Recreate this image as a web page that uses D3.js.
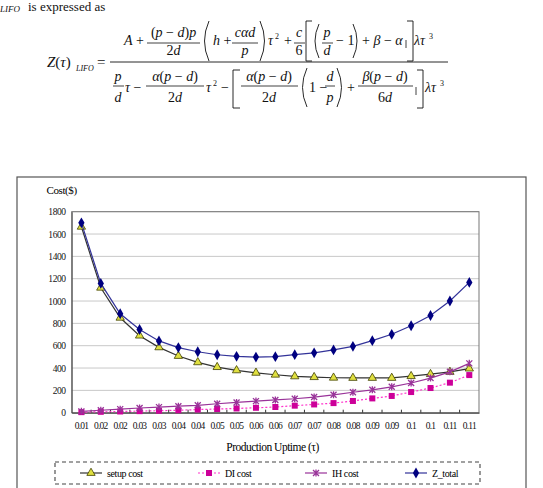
<!DOCTYPE html>
<html>
<head>
<meta charset="utf-8">
<script src="https://cdn.jsdelivr.net/npm/d3@7"></script>
<style>
  body { margin: 0; background: #fff; }
  svg, svg text { font-family: "Liberation Serif", "DejaVu Serif", serif; }
</style>
</head>
<body>
<div id="chart"></div>
<script>
// values
var xLabels = ["0.01","0.02","0.02","0.03","0.03","0.04","0.04","0.05","0.05","0.06","0.06",
               "0.07","0.07","0.08","0.08","0.09","0.09","0.1","0.1","0.11","0.11"];
var setupCost = [1665,1119,850,690,585,508,451,408,379,357,340,325,318,313,311,311,311,327,345,365,395];
var diCost    = [5,8,11,14,18,22,28,33,38,44,51,63,74,86,105,128,150,185,221,269,337];
var ihCost    = [12,22,32,42,50,58,66,80,92,104,114,125,140,160,183,205,232,266,310,366,442];
var zTotal    = [1700,1158,886,745,643,583,546,519,505,498,502,520,536,562,594,645,702,779,870,1000,1167];
var yTicks    = [0,200,400,600,800,1000,1200,1400,1600,1800];
var seriesNames = ["setup cost","DI cost","IH cost","Z_total"];

var svgWidth = 543, svgHeight = 488;
var svg = d3.select("#chart").append("svg")
    .attr("width", svgWidth)
    .attr("height", svgHeight);

// ---------- formula above the chart ----------
var I = function(s) { return '<tspan font-style="italic">' + s + '</tspan>'; };
var fm = svg.append("g").attr("fill", "#111");

function txt(x, y, html, anchor, size) {
  fm.append("text").attr("x", x).attr("y", y)
    .attr("text-anchor", anchor || "start")
    .attr("font-size", size || 14)
    .html(html);
}
function frac(cx, x0, x1, ly, top, bot, ty, by) {
  txt(cx, ty, top, "middle");
  txt(cx, by, bot, "middle");
  fm.append("line").attr("x1", x0).attr("x2", x1).attr("y1", ly).attr("y2", ly)
    .attr("stroke", "#111").attr("stroke-width", 0.8);
}
function paren(x0, x1, y0, y1, left) {
  var p = left
    ? "M" + x1 + "," + y0 + " Q" + (x0 - 2) + "," + ((y0 + y1) / 2) + " " + x1 + "," + y1
    : "M" + x0 + "," + y0 + " Q" + (x1 + 2) + "," + ((y0 + y1) / 2) + " " + x0 + "," + y1;
  fm.append("path").attr("d", p).attr("fill", "none").attr("stroke", "#111").attr("stroke-width", 0.9);
}
function bracket(x0, x1, y0, y1, left) {
  var p = left
    ? "M" + x1 + "," + y0 + " H" + x0 + " V" + y1 + " H" + x1
    : "M" + x0 + "," + y0 + " H" + x1 + " V" + y1 + " H" + x0;
  fm.append("path").attr("d", p).attr("fill", "none").attr("stroke", "#111").attr("stroke-width", 0.9);
}

// first line (cut at top in the reference)
txt(0, 12, I("LIFO"), "start", 9);
txt(28, 11, "is expressed as", "start", 13);

// left side
txt(47, 67, I("Z") + "(" + I("τ") + ")", "start", 15);
txt(76, 71, I("LIFO"), "start", 8);
txt(97, 67, "=", "start", 15);
fm.append("line").attr("x1", 110).attr("x2", 448).attr("y1", 62).attr("y2", 62)
  .attr("stroke", "#111").attr("stroke-width", 0.9);

// numerator
txt(124, 45, I("A") + " +");
frac(173.5, 147, 200, 43, "(" + I("p") + " − " + I("d") + ")" + I("p"), "2" + I("d"), 37, 55);
paren(202, 209, 21, 61, true);
txt(213, 45, I("h") + " +");
frac(245, 232, 258, 43, I("cαd"), I("p"), 37, 55);
paren(260, 267, 21, 61, false);
txt(268, 45, I("τ"));
txt(275, 39, "2", "start", 8);
txt(284, 45, "+");
frac(299, 294, 305, 43, I("c"), "6", 37, 55);
bracket(306, 312, 21, 61, true);
paren(313, 319, 24, 58, true);
frac(327, 322, 333, 43, I("p"), I("d"), 37, 55);
txt(336, 45, "− 1");
paren(353, 359, 24, 58, false);
txt(362, 45, "+ " + I("β") + " − " + I("α"));
fm.append("line").attr("x1", 406).attr("x2", 406).attr("y1", 40).attr("y2", 48)
  .attr("stroke", "#111").attr("stroke-width", 0.8);
bracket(407, 413, 21, 61, false);
txt(414, 45, I("λτ"));
txt(429, 39, "3", "start", 8);

// denominator
frac(118, 113, 124, 86, I("p"), I("d"), 81, 102);
txt(125, 92, I("τ") + " −");
frac(175, 146, 204, 86, I("α") + "(" + I("p") + " − " + I("d") + ")", "2" + I("d"), 81, 102);
txt(206, 92, I("τ"));
txt(213, 86, "2", "start", 8);
txt(221, 92, "−");
bracket(233, 240, 70, 108, true);
frac(269, 241, 298, 86, I("α") + "(" + I("p") + " − " + I("d") + ")", "2" + I("d"), 81, 102);
paren(300, 307, 68, 107, true);
txt(309, 92, "1 −");
frac(330, 325, 335, 86, I("d"), I("p"), 81, 102);
paren(337, 344, 68, 107, false);
txt(347, 92, "+");
frac(385, 358, 413, 86, I("β") + "(" + I("p") + " − " + I("d") + ")", "6" + I("d"), 81, 102);
fm.append("line").attr("x1", 416).attr("x2", 416).attr("y1", 87).attr("y2", 95)
  .attr("stroke", "#111").attr("stroke-width", 0.8);
bracket(417, 423, 70, 108, false);
txt(425, 92, I("λτ"));
txt(440, 86, "3", "start", 8);

// ---------- chart ----------
// outer chart frame
svg.append("rect")
  .attr("x", 17).attr("y", 177).attr("width", 509).attr("height", 320)
  .attr("fill", "none").attr("stroke", "#555").attr("stroke-width", 1.2);

var margin = { top: 211.7, left: 71.7 };
var width = 479 - margin.left;
var height = 412.7 - margin.top;

var chartGroup = svg.append("g")
  .attr("transform", `translate(${margin.left}, ${margin.top})`);

var xScale = d3.scaleBand()
  .domain(d3.range(xLabels.length))
  .range([0, width]);

var yScale = d3.scaleLinear()
  .domain([0, 1800])
  .range([height, 0]);

// gridlines
chartGroup.append("g")
  .selectAll("line")
  .data(yTicks.slice(1))
  .enter()
  .append("line")
  .attr("x1", 0).attr("x2", width)
  .attr("y1", d => yScale(d)).attr("y2", d => yScale(d))
  .attr("stroke", "#c8c8c8");

// plot border
chartGroup.append("rect")
  .attr("width", width).attr("height", height)
  .attr("fill", "none").attr("stroke", "#777");

// y axis
var yAxis = chartGroup.append("g")
  .call(d3.axisLeft(yScale).tickValues(yTicks).tickFormat(d3.format("d")).tickSize(0).tickPadding(6));
yAxis.attr("font-family", null);
yAxis.select(".domain").attr("stroke", "#555");
yAxis.selectAll("text")
  .attr("font-size", 9.5)
  .attr("letter-spacing", -0.4)
  .attr("fill", "#111");

// x axis
var xAxis = chartGroup.append("g")
  .attr("transform", `translate(0, ${height})`)
  .call(d3.axisBottom(xScale).tickSize(0).tickPadding(10).tickFormat(i => xLabels[i]));
xAxis.attr("font-family", null);
xAxis.select(".domain").attr("stroke", "#333");
xAxis.selectAll("text")
  .attr("font-size", 9.5)
  .attr("letter-spacing", -0.8)
  .attr("fill", "#111");

// inward ticks on band boundaries
chartGroup.append("g")
  .selectAll("line")
  .data(d3.range(1, xLabels.length))
  .enter()
  .append("line")
  .attr("x1", d => xScale(d)).attr("x2", d => xScale(d))
  .attr("y1", height).attr("y2", height - 3)
  .attr("stroke", "#333");

// axis titles
svg.append("text")
  .attr("x", 46.5).attr("y", 194)
  .attr("font-size", 11).attr("letter-spacing", -0.4)
  .text("Cost($)");

svg.append("text")
  .attr("x", 272.5).attr("y", 451)
  .attr("text-anchor", "middle")
  .attr("font-size", 11.5).attr("letter-spacing", -0.5)
  .text("Production Uptime (τ)");

// series
var cx = i => xScale(i) + xScale.bandwidth() / 2;
var line = d3.line().x((d, i) => cx(i)).y(d => yScale(d));

var styles = [
  { data: setupCost, stroke: "#333333", dash: null,  marker: "tri" },
  { data: diCost,    stroke: "#ff33cc", dash: "2,2", marker: "sq" },
  { data: ihCost,    stroke: "#993399", dash: null,  marker: "ast" },
  { data: zTotal,    stroke: "#333399", dash: null,  marker: "dia" }
];

function drawMarker(g, type, x, y) {
  if (type === "tri") {
    g.append("path")
      .attr("d", d3.symbol().type(d3.symbolTriangle).size(30)())
      .attr("transform", `translate(${x},${y})`)
      .attr("fill", "#e0e040").attr("stroke", "#404000").attr("stroke-width", 0.8);
  } else if (type === "sq") {
    g.append("rect")
      .attr("x", x - 3).attr("y", y - 3).attr("width", 6).attr("height", 6)
      .attr("fill", "#cc0099");
  } else if (type === "ast") {
    g.append("path")
      .attr("d", `M${x-3},${y-3}L${x+3},${y+3}M${x-3},${y+3}L${x+3},${y-3}M${x},${y-3.5}L${x},${y+3.5}`)
      .attr("stroke", "#993399").attr("stroke-width", 1.3);
  } else {
    g.append("path")
      .attr("d", d3.symbol().type(d3.symbolDiamond).size(34)())
      .attr("transform", `translate(${x},${y})`)
      .attr("fill", "#000080");
  }
}

styles.forEach(function(s) {
  chartGroup.append("path")
    .datum(s.data)
    .attr("d", line)
    .attr("fill", "none")
    .attr("stroke", s.stroke)
    .attr("stroke-width", 1.2)
    .attr("stroke-dasharray", s.dash);
  var mg = chartGroup.append("g");
  s.data.forEach(function(v, i) { drawMarker(mg, s.marker, cx(i), yScale(v)); });
});

// legend
svg.append("rect")
  .attr("x", 55).attr("y", 462).attr("width", 425).attr("height", 22)
  .attr("fill", "none").attr("stroke", "#444").attr("stroke-width", 1.1)
  .attr("stroke-dasharray", "4,3");

var legendX = [80, 198, 305, 405];
styles.forEach(function(s, i) {
  var lg = svg.append("g");
  lg.append("line")
    .attr("x1", legendX[i]).attr("x2", legendX[i] + 22)
    .attr("y1", 473).attr("y2", 473)
    .attr("stroke", s.stroke).attr("stroke-width", 1.2)
    .attr("stroke-dasharray", s.dash);
  drawMarker(lg, s.marker, legendX[i] + 11, 473);
  lg.append("text")
    .attr("x", legendX[i] + 27).attr("y", 476.5)
    .attr("font-size", 10).attr("letter-spacing", -0.4)
    .text(seriesNames[i]);
});
</script>
</body>
</html>
